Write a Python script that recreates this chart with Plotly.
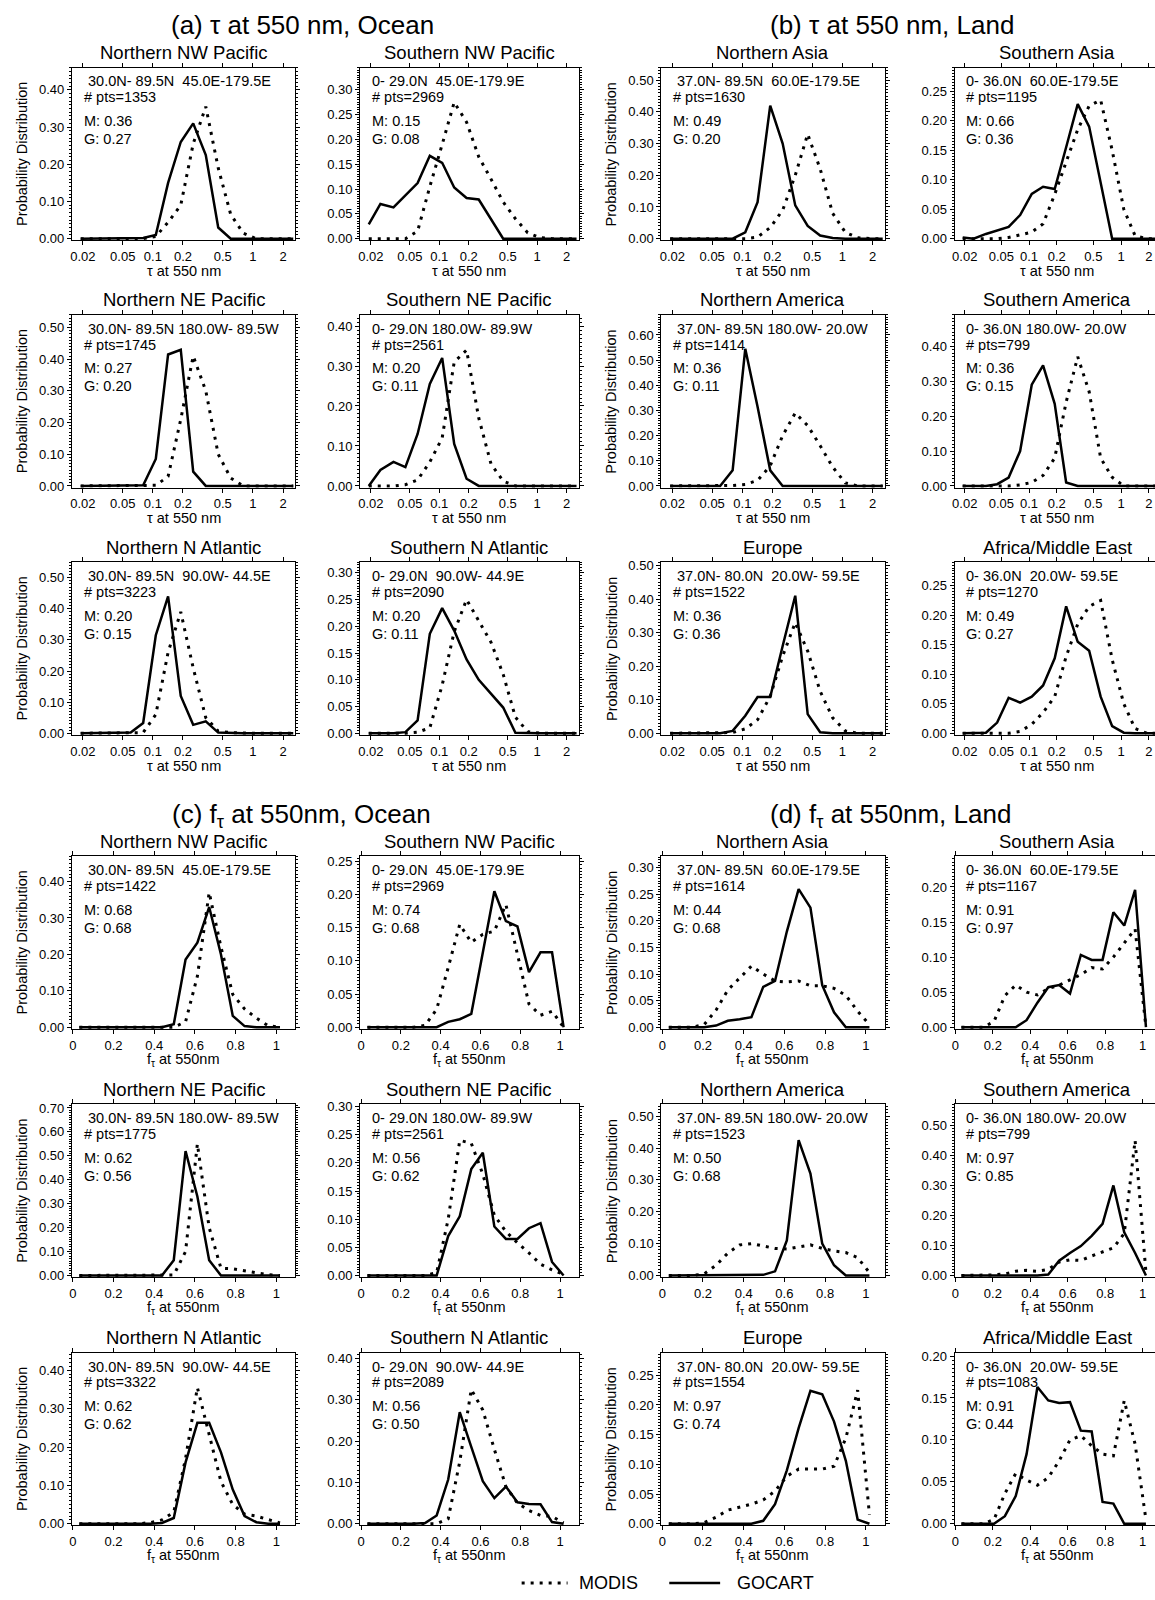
import plotly.graph_objects as go

W, H = 1155, 1600

# ---------------- data ----------------
TAU_BINS = [0.019, 0.025, 0.034, 0.045, 0.06, 0.08, 0.107, 0.142, 0.19, 0.253,
            0.338, 0.45, 0.6, 0.8, 1.07, 1.42, 1.9, 2.53]
FT_BINS = [0.032, 0.09, 0.148, 0.206, 0.264, 0.322, 0.38, 0.438, 0.496, 0.554,
           0.612, 0.67, 0.728, 0.786, 0.844, 0.902, 0.96, 1.018]

TAU_TICKS = [0.02, 0.05, 0.1, 0.2, 0.5, 1, 2]
TAU_TICK_LABELS = ["0.02", "0.05", "0.1", "0.2", "0.5", "1", "2"]
FT_TICKS = [0, 0.2, 0.4, 0.6, 0.8, 1]
FT_TICK_LABELS = ["0", "0.2", "0.4", "0.6", "0.8", "1"]

OCEAN_REGIONS = ["Northern NW Pacific", "Southern NW Pacific", "Northern NE Pacific",
                 "Southern NE Pacific", "Northern N Atlantic", "Southern N Atlantic"]
LAND_REGIONS = ["Northern Asia", "Southern Asia", "Northern America",
                "Southern America", "Europe", "Africa/Middle East"]
OCEAN_BOUNDS = [" 30.0N- 89.5N  45.0E-179.5E", "0- 29.0N  45.0E-179.9E",
                " 30.0N- 89.5N 180.0W- 89.5W", "0- 29.0N 180.0W- 89.9W",
                " 30.0N- 89.5N  90.0W- 44.5E", "0- 29.0N  90.0W- 44.9E"]
LAND_BOUNDS = [" 37.0N- 89.5N  60.0E-179.5E", "0- 36.0N  60.0E-179.5E",
               " 37.0N- 89.5N 180.0W- 20.0W", "0- 36.0N 180.0W- 20.0W",
               " 37.0N- 80.0N  20.0W- 59.5E", "0- 36.0N  20.0W- 59.5E"]

TAU_OCEAN_NPTS = [1353, 2969, 1745, 2561, 3223, 2090]
TAU_LAND_NPTS = [1630, 1195, 1414, 799, 1522, 1270]
FT_OCEAN_NPTS = [1422, 2969, 1775, 2561, 3322, 2089]
FT_LAND_NPTS = [1614, 1167, 1523, 799, 1554, 1083]

TAU_OCEAN_M = ["0.36", "0.15", "0.27", "0.20", "0.20", "0.20"]
TAU_OCEAN_G = ["0.27", "0.08", "0.20", "0.11", "0.15", "0.11"]
TAU_LAND_M = ["0.49", "0.66", "0.36", "0.36", "0.36", "0.49"]
TAU_LAND_G = ["0.20", "0.36", "0.11", "0.15", "0.36", "0.27"]
FT_OCEAN_M = ["0.68", "0.74", "0.62", "0.56", "0.62", "0.56"]
FT_OCEAN_G = ["0.68", "0.68", "0.56", "0.62", "0.62", "0.50"]
FT_LAND_M = ["0.44", "0.91", "0.50", "0.97", "0.97", "0.91"]
FT_LAND_G = ["0.68", "0.97", "0.68", "0.85", "0.74", "0.44"]

# y-axis top and tick step of each panel
TAU_OCEAN_YMAX = [0.46, 0.345, 0.54, 0.428, 0.55, 0.32]
TAU_OCEAN_YSTEP = [0.10, 0.05, 0.10, 0.10, 0.10, 0.05]
TAU_LAND_YMAX = [0.54, 0.29, 0.68, 0.49, 0.51, 0.29]
TAU_LAND_YSTEP = [0.10, 0.05, 0.10, 0.10, 0.10, 0.05]
FT_OCEAN_YMAX = [0.47, 0.258, 0.715, 0.304, 0.446, 0.414]
FT_OCEAN_YSTEP = [0.10, 0.05, 0.10, 0.05, 0.10, 0.10]
FT_LAND_YMAX = [0.322, 0.244, 0.537, 0.57, 0.288, 0.204]
FT_LAND_YSTEP = [0.05, 0.05, 0.10, 0.10, 0.05, 0.05]

# (a) tau, ocean
modis_tau_nnw_pacific = [0, 0, 0, 0, 0, 0, 0.006, 0.044, 0.09, 0.255, 0.355, 0.19, 0.065, 0.015, 0, 0, 0, 0]
gocart_tau_nnw_pacific = [0, 0, 0, 0, 0, 0.002, 0.01, 0.15, 0.26, 0.31, 0.225, 0.03, 0, 0, 0, 0, 0, 0]
modis_tau_snw_pacific = [0, 0, 0, 0, 0.015, 0.105, 0.19, 0.275, 0.235, 0.165, 0.12, 0.074, 0.04, 0.012, 0.002, 0, 0, 0]
gocart_tau_snw_pacific = [0.029, 0.07, 0.063, 0.088, 0.112, 0.167, 0.153, 0.103, 0.082, 0.079, 0.04, 0, 0, 0, 0, 0, 0, 0]
modis_tau_nne_pacific = [0, 0, 0, 0, 0, 0, 0.002, 0.03, 0.21, 0.41, 0.3, 0.1, 0.025, 0, 0, 0, 0, 0]
gocart_tau_nne_pacific = [0, 0, 0, 0, 0, 0.002, 0.085, 0.415, 0.43, 0.045, 0, 0, 0, 0, 0, 0, 0, 0]
modis_tau_sne_pacific = [0, 0, 0, 0.003, 0.015, 0.06, 0.12, 0.31, 0.34, 0.17, 0.055, 0.012, 0, 0, 0, 0, 0, 0]
gocart_tau_sne_pacific = [0, 0.04, 0.06, 0.047, 0.13, 0.255, 0.32, 0.105, 0.018, 0, 0, 0, 0, 0, 0, 0, 0, 0]
modis_tau_nn_atlantic = [0, 0, 0, 0, 0, 0.002, 0.06, 0.26, 0.39, 0.21, 0.05, 0.007, 0.002, 0, 0, 0, 0, 0]
gocart_tau_nn_atlantic = [0, 0, 0, 0, 0.002, 0.033, 0.315, 0.44, 0.12, 0.027, 0.038, 0.002, 0, 0, 0, 0, 0, 0]
modis_tau_sn_atlantic = [0, 0, 0, 0, 0.002, 0.01, 0.09, 0.19, 0.25, 0.21, 0.17, 0.11, 0.03, 0.003, 0, 0, 0, 0]
gocart_tau_sn_atlantic = [0, 0, 0, 0.002, 0.024, 0.186, 0.234, 0.192, 0.138, 0.1, 0.074, 0.048, 0.001, 0, 0, 0, 0, 0]

# (b) tau, land
modis_tau_n_asia = [0, 0, 0, 0, 0, 0, 0, 0.005, 0.035, 0.09, 0.2, 0.33, 0.22, 0.08, 0.02, 0.003, 0, 0]
gocart_tau_n_asia = [0, 0, 0, 0, 0, 0, 0.02, 0.115, 0.42, 0.30, 0.105, 0.04, 0.01, 0.002, 0, 0, 0, 0]
modis_tau_s_asia = [0, 0, 0, 0, 0.002, 0.006, 0.011, 0.025, 0.075, 0.13, 0.185, 0.225, 0.235, 0.15, 0.05, 0.005, 0, 0]
gocart_tau_s_asia = [0.002, 0, 0.008, 0.014, 0.02, 0.04, 0.076, 0.088, 0.084, 0.155, 0.228, 0.19, 0.095, 0, 0, 0, 0, 0]
modis_tau_n_america = [0, 0, 0, 0, 0, 0.002, 0.006, 0.022, 0.08, 0.2, 0.29, 0.24, 0.16, 0.075, 0.012, 0, 0, 0]
gocart_tau_n_america = [0, 0, 0, 0, 0, 0.062, 0.545, 0.315, 0.062, 0, 0, 0, 0, 0, 0, 0, 0, 0]
modis_tau_s_america = [0, 0, 0, 0, 0, 0.003, 0.01, 0.03, 0.08, 0.24, 0.37, 0.27, 0.08, 0.025, 0, 0, 0, 0]
gocart_tau_s_america = [0, 0, 0, 0.005, 0.024, 0.1, 0.29, 0.345, 0.235, 0.01, 0, 0, 0, 0, 0, 0, 0, 0]
modis_tau_europe = [0, 0, 0, 0, 0, 0.002, 0.013, 0.04, 0.11, 0.23, 0.33, 0.245, 0.125, 0.046, 0.007, 0, 0, 0]
gocart_tau_europe = [0, 0, 0, 0, 0, 0.007, 0.052, 0.108, 0.108, 0.26, 0.41, 0.057, 0.003, 0, 0, 0, 0, 0]
modis_tau_africa = [0, 0, 0, 0, 0, 0.003, 0.015, 0.035, 0.062, 0.13, 0.185, 0.215, 0.225, 0.125, 0.05, 0.008, 0, 0]
gocart_tau_africa = [0, 0, 0.001, 0.018, 0.06, 0.052, 0.062, 0.081, 0.127, 0.215, 0.155, 0.14, 0.062, 0.012, 0.001, 0, 0, 0]

# (c) f_tau, ocean
modis_ft_nnw_pacific = [0, 0, 0, 0, 0, 0, 0, 0, 0, 0.015, 0.14, 0.37, 0.22, 0.09, 0.05, 0.025, 0.004, 0]
gocart_ft_nnw_pacific = [0, 0, 0, 0, 0, 0, 0, 0, 0.008, 0.186, 0.232, 0.33, 0.2, 0.031, 0.003, 0, 0, 0]
modis_ft_snw_pacific = [0, 0, 0, 0, 0, 0.003, 0.027, 0.09, 0.155, 0.128, 0.14, 0.145, 0.185, 0.11, 0.035, 0.018, 0.024, 0]
gocart_ft_snw_pacific = [0, 0, 0, 0, 0, 0, 0, 0.008, 0.012, 0.02, 0.11, 0.205, 0.16, 0.152, 0.083, 0.113, 0.113, 0]
modis_ft_nne_pacific = [0, 0, 0, 0, 0, 0, 0, 0, 0.002, 0.1, 0.55, 0.2, 0.03, 0.028, 0.02, 0.01, 0.003, 0]
gocart_ft_nne_pacific = [0, 0, 0, 0, 0, 0, 0, 0, 0.064, 0.52, 0.33, 0.064, 0, 0, 0, 0, 0, 0]
modis_ft_sne_pacific = [0, 0, 0, 0, 0, 0, 0.005, 0.1, 0.24, 0.235, 0.18, 0.107, 0.078, 0.058, 0.04, 0.02, 0.01, 0.002]
gocart_ft_sne_pacific = [0, 0, 0, 0, 0, 0, 0, 0.07, 0.105, 0.189, 0.218, 0.087, 0.065, 0.065, 0.084, 0.093, 0.024, 0]
modis_ft_nn_atlantic = [0, 0, 0, 0, 0, 0, 0.003, 0.01, 0.03, 0.17, 0.355, 0.23, 0.11, 0.05, 0.025, 0.02, 0.01, 0.002]
gocart_ft_nn_atlantic = [0, 0, 0, 0, 0, 0, 0, 0.002, 0.015, 0.16, 0.263, 0.263, 0.186, 0.089, 0.02, 0.004, 0, 0]
modis_ft_sn_atlantic = [0, 0, 0, 0, 0, 0, 0, 0.012, 0.15, 0.325, 0.275, 0.18, 0.09, 0.05, 0.032, 0.02, 0.018, 0.002]
gocart_ft_sn_atlantic = [0, 0, 0, 0, 0, 0.002, 0.02, 0.107, 0.27, 0.186, 0.103, 0.062, 0.09, 0.052, 0.048, 0.047, 0.004, 0]

# (d) f_tau, land
modis_ft_n_asia = [0, 0, 0, 0.005, 0.032, 0.07, 0.092, 0.115, 0.1, 0.087, 0.085, 0.087, 0.078, 0.078, 0.073, 0.06, 0.03, 0.005]
gocart_ft_n_asia = [0, 0, 0, 0, 0.003, 0.012, 0.015, 0.019, 0.076, 0.087, 0.18, 0.26, 0.225, 0.079, 0.028, 0, 0, 0]
modis_ft_s_asia = [0, 0, 0, 0.008, 0.045, 0.06, 0.05, 0.046, 0.055, 0.06, 0.068, 0.075, 0.085, 0.083, 0.1, 0.12, 0.14, 0]
gocart_ft_s_asia = [0, 0, 0, 0, 0, 0, 0.01, 0.035, 0.057, 0.06, 0.048, 0.103, 0.096, 0.096, 0.164, 0.145, 0.196, 0]
modis_ft_n_america = [0, 0, 0, 0.005, 0.032, 0.07, 0.096, 0.1, 0.092, 0.085, 0.083, 0.09, 0.096, 0.085, 0.077, 0.072, 0.056, 0.009]
gocart_ft_n_america = [0, 0, 0, 0, 0, 0, 0, 0, 0.002, 0.013, 0.11, 0.425, 0.32, 0.1, 0.032, 0, 0, 0]
modis_ft_s_america = [0, 0, 0, 0.002, 0.005, 0.014, 0.017, 0.014, 0.02, 0.045, 0.052, 0.05, 0.065, 0.078, 0.092, 0.14, 0.45, 0.01]
gocart_ft_s_america = [0, 0, 0, 0, 0, 0, 0, 0, 0.003, 0.049, 0.075, 0.098, 0.132, 0.172, 0.3, 0.144, 0.075, 0]
modis_ft_europe = [0, 0, 0, 0.002, 0.011, 0.023, 0.028, 0.033, 0.04, 0.055, 0.08, 0.092, 0.092, 0.092, 0.097, 0.144, 0.225, 0.015]
gocart_ft_europe = [0, 0, 0, 0, 0, 0, 0, 0, 0.005, 0.033, 0.09, 0.161, 0.224, 0.218, 0.172, 0.106, 0.007, 0]
modis_ft_africa = [0, 0, 0, 0.005, 0.036, 0.06, 0.052, 0.046, 0.055, 0.075, 0.1, 0.105, 0.093, 0.083, 0.081, 0.147, 0.095, 0.005]
gocart_ft_africa = [0, 0, 0, 0, 0.009, 0.033, 0.083, 0.163, 0.147, 0.144, 0.145, 0.111, 0.11, 0.026, 0.024, 0, 0, 0]

SERIES_NAMES = ["MODIS", "GOCART"]

BLOCKS = [
    dict(title="(a) τ at 550 nm, Ocean", kind="tau", row0=0, col0=0,
         regions=OCEAN_REGIONS, bounds=OCEAN_BOUNDS, npts=TAU_OCEAN_NPTS,
         m=TAU_OCEAN_M, g=TAU_OCEAN_G, ymax=TAU_OCEAN_YMAX, ystep=TAU_OCEAN_YSTEP,
         modis=[modis_tau_nnw_pacific, modis_tau_snw_pacific, modis_tau_nne_pacific,
                modis_tau_sne_pacific, modis_tau_nn_atlantic, modis_tau_sn_atlantic],
         gocart=[gocart_tau_nnw_pacific, gocart_tau_snw_pacific, gocart_tau_nne_pacific,
                 gocart_tau_sne_pacific, gocart_tau_nn_atlantic, gocart_tau_sn_atlantic]),
    dict(title="(b) τ at 550 nm, Land", kind="tau", row0=0, col0=2,
         regions=LAND_REGIONS, bounds=LAND_BOUNDS, npts=TAU_LAND_NPTS,
         m=TAU_LAND_M, g=TAU_LAND_G, ymax=TAU_LAND_YMAX, ystep=TAU_LAND_YSTEP,
         modis=[modis_tau_n_asia, modis_tau_s_asia, modis_tau_n_america,
                modis_tau_s_america, modis_tau_europe, modis_tau_africa],
         gocart=[gocart_tau_n_asia, gocart_tau_s_asia, gocart_tau_n_america,
                 gocart_tau_s_america, gocart_tau_europe, gocart_tau_africa]),
    dict(title="(c) f<sub>τ</sub> at 550nm, Ocean", kind="ft", row0=3, col0=0,
         regions=OCEAN_REGIONS, bounds=OCEAN_BOUNDS, npts=FT_OCEAN_NPTS,
         m=FT_OCEAN_M, g=FT_OCEAN_G, ymax=FT_OCEAN_YMAX, ystep=FT_OCEAN_YSTEP,
         modis=[modis_ft_nnw_pacific, modis_ft_snw_pacific, modis_ft_nne_pacific,
                modis_ft_sne_pacific, modis_ft_nn_atlantic, modis_ft_sn_atlantic],
         gocart=[gocart_ft_nnw_pacific, gocart_ft_snw_pacific, gocart_ft_nne_pacific,
                 gocart_ft_sne_pacific, gocart_ft_nn_atlantic, gocart_ft_sn_atlantic]),
    dict(title="(d) f<sub>τ</sub> at 550nm, Land", kind="ft", row0=3, col0=2,
         regions=LAND_REGIONS, bounds=LAND_BOUNDS, npts=FT_LAND_NPTS,
         m=FT_LAND_M, g=FT_LAND_G, ymax=FT_LAND_YMAX, ystep=FT_LAND_YSTEP,
         modis=[modis_ft_n_asia, modis_ft_s_asia, modis_ft_n_america,
                modis_ft_s_america, modis_ft_europe, modis_ft_africa],
         gocart=[gocart_ft_n_asia, gocart_ft_s_asia, gocart_ft_n_america,
                 gocart_ft_s_america, gocart_ft_europe, gocart_ft_africa]),
]

# ---------------- layout geometry (pixels) ----------------
# the 4th column runs past the right edge of the page and is cut there
COL_X = [(69, 293), (358, 577), (660, 884), (954, 1160)]
ROW_Y = [(63, 237), (312, 486), (561, 735), (857, 1031), (1107, 1281), (1357, 1531)]
BLOCK_TITLE_POS = [(300, 20), (891, 20), (299, 816), (890, 816)]
TAU_RANGE = [-1.81, 0.423]
FT_RANGE = [-0.005, 1.093]
FONT = "Liberation Sans, Arial, Helvetica, sans-serif"
MODIS_LINE = dict(color="black", width=3, dash="3px,6px")
GOCART_LINE = dict(color="black", width=2.5)


def px(xp):
    return xp / W


def py(yp):
    return 1 - yp / H


def nb(s):
    return s.replace(" ", "\u00a0")


fig = go.Figure()
axes = {}
ann = []
shapes = []
k = 0
for bi, blk in enumerate(BLOCKS):
    tx, ty = BLOCK_TITLE_POS[bi]
    ann.append(dict(x=px(tx), y=py(ty), xref="paper", yref="paper", text=blk["title"],
                    showarrow=False, xanchor="center", yanchor="middle",
                    font=dict(size=26, family=FONT, color="black")))
    for i in range(6):
        k += 1
        r = blk["row0"] + i // 2
        c = blk["col0"] + i % 2
        x0, x1 = COL_X[c]
        y0, y1 = ROW_Y[r]
        xr = min(x1, W)
        frac = (xr - x0) / (x1 - x0)
        if blk["kind"] == "tau":
            base, bins, xtype = TAU_RANGE, TAU_BINS, "log"
            tv, tt = TAU_TICKS, TAU_TICK_LABELS
            xtitle = "τ at 550 nm"
        else:
            base, bins, xtype = FT_RANGE, FT_BINS, "linear"
            tv, tt = FT_TICKS, FT_TICK_LABELS
            xtitle = "f<sub>τ</sub> at 550nm"
        xrange = [base[0], base[0] + (base[1] - base[0]) * frac]
        ymax = blk["ymax"][i]
        ystep = blk["ystep"][i]
        clipped = x1 > W
        sfx = "" if k == 1 else str(k)
        axes["xaxis" + sfx] = dict(
            domain=[px(x0), px(xr)], anchor="y" + sfx, type=xtype, range=xrange,
            tickvals=tv, ticktext=tt, ticks="outside", ticklen=4, tickwidth=1,
            tickcolor="black", showline=True, linecolor="black", linewidth=1,
            mirror="ticks", showgrid=False, zeroline=False, ticklabeloverflow="allow",
            tickfont=dict(size=13, family=FONT, color="black"), fixedrange=True)
        axes["yaxis" + sfx] = dict(
            domain=[py(y1), py(y0)], anchor="x" + sfx, range=[-0.01 * ymax, ymax],
            tick0=0, dtick=ystep, tickformat=".2f", ticks="outside",
            ticklen=4, tickwidth=1, tickcolor="black", showline=True,
            linecolor="black", linewidth=1, mirror=False if clipped else "ticks",
            minor=dict(ticks="outside", ticklen=2, dtick=ystep / 10, tickcolor="black",
                       tickwidth=1, showgrid=False),
            showgrid=False, zeroline=False,
            tickfont=dict(size=13, family=FONT, color="black"), fixedrange=True)
        fig.add_trace(go.Scatter(
            x=bins, y=blk["modis"][i], mode="lines", name=SERIES_NAMES[0],
            line=MODIS_LINE, xaxis="x" + sfx, yaxis="y" + sfx, showlegend=False))
        fig.add_trace(go.Scatter(
            x=bins, y=blk["gocart"][i], mode="lines", name=SERIES_NAMES[1],
            line=GOCART_LINE, xaxis="x" + sfx, yaxis="y" + sfx, showlegend=False))
        cx = (x0 + x1) / 2
        ann.append(dict(x=px(cx), y=py(y0 - 15), xref="paper", yref="paper",
                        text=blk["regions"][i], showarrow=False, xanchor="center",
                        yanchor="middle", font=dict(size=18.5, family=FONT, color="black")))
        ann.append(dict(x=px(cx), y=py(y1 + 31), xref="paper", yref="paper",
                        text=xtitle, showarrow=False, xanchor="center",
                        yanchor="middle", font=dict(size=14.5, family=FONT, color="black")))
        if c in (0, 2):
            ann.append(dict(x=px(x0 - 50), y=py((y0 + y1) / 2), xref="paper", yref="paper",
                            text="Probability Distribution", textangle=-90, showarrow=False,
                            xanchor="center", yanchor="middle",
                            font=dict(size=14.5, family=FONT, color="black")))
        lines = [(blk["bounds"][i], 14), ("# pts=%d" % blk["npts"][i], 30),
                 ("M: " + blk["m"][i], 54), ("G: " + blk["g"][i], 72)]
        for txt, off in lines:
            ann.append(dict(x=px(x0 + 10), y=py(y0 + off), xref="paper", yref="paper",
                            text=nb(txt), showarrow=False, xanchor="left", yanchor="middle",
                            font=dict(size=14.5, family=FONT, color="black")))

# legend drawn at the bottom centre (line samples + labels)
LEG_Y = 1589
for (sx0, sx1, tx), name, style in zip([(520, 566, 575), (668, 719, 734)], SERIES_NAMES,
                                      [MODIS_LINE, GOCART_LINE]):
    shapes.append(dict(type="line", xref="paper", yref="paper", x0=px(sx0), x1=px(sx1),
                       y0=py(LEG_Y), y1=py(LEG_Y), line=style))
    ann.append(dict(x=px(tx), y=py(LEG_Y), xref="paper", yref="paper", text=name,
                    showarrow=False, xanchor="left", yanchor="middle",
                    font=dict(size=18, family=FONT, color="black")))

fig.update_layout(
    width=W, height=H, margin=dict(l=0, r=0, t=0, b=0),
    paper_bgcolor="white", plot_bgcolor="white",
    font=dict(family=FONT, color="black"),
    annotations=ann, shapes=shapes, showlegend=False,
    **axes,
)

fig.write_html("out.html")
